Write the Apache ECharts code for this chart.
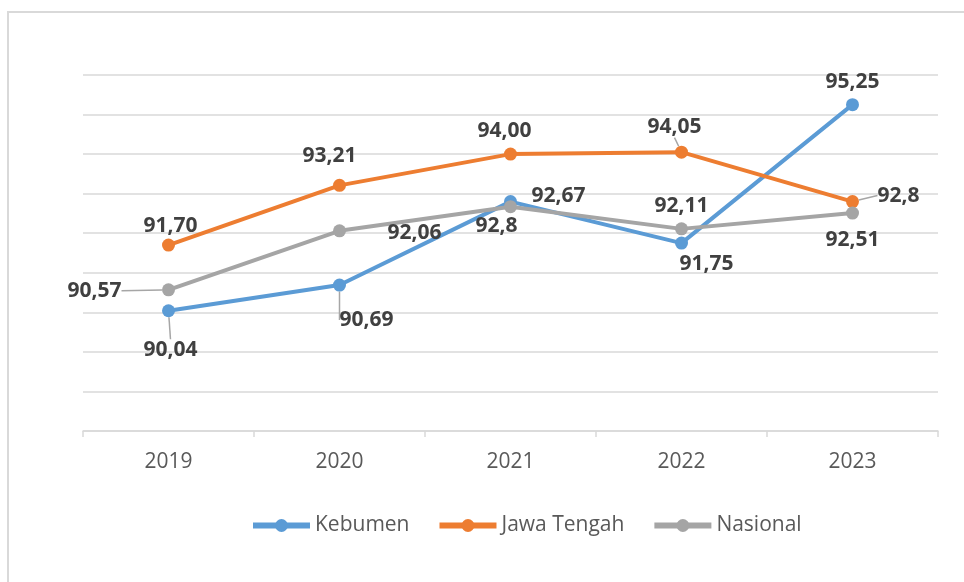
<!DOCTYPE html>
<html>
<head>
<meta charset="utf-8">
<script src="https://cdn.jsdelivr.net/npm/echarts@6/dist/echarts.min.js"></script>
<style>
  html, body { margin: 0; padding: 0; background: #fff; }
  #chart { width: 964px; height: 582px; }
</style>
</head>
<body>
<div id="chart"></div>
<script>
  // data
  var years = ['2019', '2020', '2021', '2022', '2023'];
  var kebumen = [90.04, 90.69, 92.8, 91.75, 95.25];
  var jawaTengah = [91.70, 93.21, 94.00, 94.05, 92.8];
  var nasional = [90.57, 92.06, 92.67, 92.11, 92.51];
  // label texts as printed in the chart
  var kebumenLabels = ['90,04', '90,69', '92,8', '91,75', '95,25'];
  var jawaLabels = ['91,70', '93,21', '94,00', '94,05', '92,8'];
  var nasionalLabels = ['90,57', '92,06', '92,67', '92,11', '92,51'];

  // where each label sits relative to its point
  var kebumenOff = [[2, 39], [27, 35], [-14, 24], [25, 21], [0, -23]];
  var jawaOff = [[2, -19], [-10, -29], [-6, -23], [-7, -25], [46, -6]];
  var nasionalOff = [[-74, 1], [75, 2], [48, -11], [0, -23], [0, 27]];
  var kebumenLine = [true, true, false, false, false];
  var jawaLine = [false, false, false, true, true];
  var nasionalLine = [true, false, false, false, false];

  var chart = echarts.init(document.getElementById('chart'));

  function makeSeries(name, values, texts, offs, lines, color) {
    return {
      name: name,
      type: 'line',
      data: values.map(function (v, i) {
        return {
          value: v,
          label: { formatter: texts[i] },
          labelLine: { show: lines[i] }
        };
      }),
      symbol: 'circle',
      symbolSize: 13,
      lineStyle: { width: 4, color: color },
      itemStyle: { color: color },
      label: {
        show: true,
        position: 'inside',
        fontFamily: 'Open Sans',
        fontSize: 21,
        fontWeight: 'bold',
        color: '#404040'
      },
      labelLine: {
        lineStyle: { color: '#a6a6a6', width: 1.5 }
      },
      labelLayout: function (p) {
        var o = offs[p.dataIndex];
        return { dx: o[0], dy: o[1] };
      },
      emphasis: { disabled: true }
    };
  }

  chart.setOption({
    animation: false,
    graphic: [{
      type: 'rect',
      shape: { x: 8, y: 12, width: 970, height: 580 },
      style: { fill: 'none', stroke: '#d9d9d9', lineWidth: 2 }
    }],
    grid: { left: 83, right: 26, top: 75, bottom: 151 },
    legend: {
      top: 510,
      left: 245,
      itemWidth: 57,
      itemHeight: 16,
      itemGap: 27,
      lineStyle: { width: 6 },
      textStyle: { fontFamily: 'Open Sans', fontSize: 21, color: '#595959' },
      data: ['Kebumen', 'Jawa Tengah', 'Nasional']
    },
    xAxis: {
      type: 'category',
      data: years,
      axisLine: { lineStyle: { color: '#d9d9d9', width: 1.5 } },
      axisTick: { show: true, length: 6, lineStyle: { color: '#d9d9d9', width: 1.5 } },
      axisLabel: { fontFamily: 'Open Sans', fontSize: 21, color: '#595959', margin: 21 }
    },
    yAxis: {
      type: 'value',
      min: 87,
      max: 96,
      interval: 1,
      axisLabel: { show: false },
      axisLine: { show: false },
      axisTick: { show: false },
      splitLine: { lineStyle: { color: '#d9d9d9', width: 1.5 } }
    },
    series: [
      makeSeries('Kebumen', kebumen, kebumenLabels, kebumenOff, kebumenLine, '#5b9bd5'),
      makeSeries('Jawa Tengah', jawaTengah, jawaLabels, jawaOff, jawaLine, '#ed7d31'),
      makeSeries('Nasional', nasional, nasionalLabels, nasionalOff, nasionalLine, '#a5a5a5')
    ]
  });
</script>
</body>
</html>
